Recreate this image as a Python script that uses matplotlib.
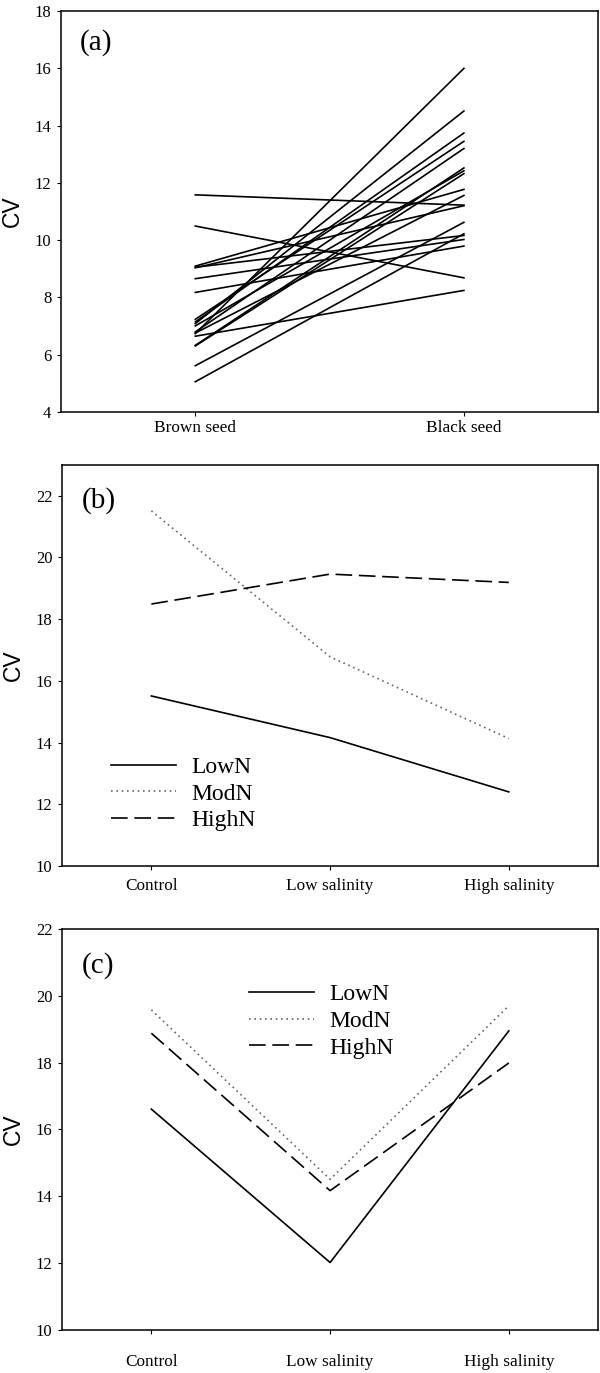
import numpy as np
import matplotlib
matplotlib.use("Agg")
import matplotlib.pyplot as plt

plt.rcParams['font.family'] = ['Liberation Serif', 'DejaVu Serif']

###############################################################################
# Data

# (a) CV of each line, brown seed vs black seed
seed_labels = ["Brown seed", "Black seed"]
brown_cv = [11.58, 10.49, 9.09, 9.03, 9.05, 8.65, 8.17, 7.23, 7.14, 7.08,
            6.79, 6.73, 6.64, 6.32, 6.30, 6.75, 7.00, 5.61, 5.05]
black_cv = [11.22, 8.68, 11.77, 11.20, 10.16, 10.02, 9.79, 13.45, 13.74, 14.51,
            13.20, 16.00, 8.24, 12.52, 12.32, 11.56, 12.42, 10.62, 10.22]

# (b) and (c) CV by salinity treatment for three N levels
salinity_labels = ["Control", "Low salinity", "High salinity"]
n_levels = ["LowN", "ModN", "HighN"]
cv_b = {"LowN": [15.51, 14.16, 12.40],
        "ModN": [21.51, 16.78, 14.13],
        "HighN": [18.49, 19.46, 19.19]}
cv_c = {"LowN": [16.61, 12.02, 18.95],
        "ModN": [19.58, 14.51, 19.70],
        "HighN": [18.88, 14.17, 17.99]}

styles = {"LowN": dict(color="black", linestyle="-"),
          "ModN": dict(color="0.4", linestyle=(0, (1, 2.2))),
          "HighN": dict(color="black", linestyle=(0, (10, 4)))}

###############################################################################
# Figure

fig = plt.figure(figsize=(6.0, 13.73), dpi=100)
ax_a = fig.add_axes([0.1017, 0.7001, 0.8953, 0.2918])
ax_b = fig.add_axes([0.1033, 0.3693, 0.8937, 0.2921])
ax_c = fig.add_axes([0.1033, 0.0313, 0.8937, 0.2921])


def style_axis(ax):
    ax.tick_params(direction="out", length=3, width=0.8, top=False, right=False)
    ax.tick_params(axis="y", labelsize=12, pad=4)
    for s in ax.spines.values():
        s.set_linewidth(1.1)
    ax.set_ylabel("CV", family=["Liberation Sans", "DejaVu Sans"], fontsize=16.5,
                  va="center")
    ax.yaxis.set_label_coords(-0.09, 0.5)


# (a)
x_seed = np.arange(1, len(seed_labels) + 1)
for b, k in zip(brown_cv, black_cv):
    ax_a.plot(x_seed, [b, k], color="black", lw=1.2)
ax_a.set_xlim(0.5, 2.5)
ax_a.set_ylim(4, 18)
ax_a.set_yticks(np.arange(4, 19, 2))
ax_a.set_xticks(x_seed)
ax_a.set_xticklabels(seed_labels)
style_axis(ax_a)
ax_a.tick_params(axis="x", labelsize=12.4, pad=3)
ax_a.text(0.035, 0.922, "(a)", transform=ax_a.transAxes, fontsize=21,
          ha="left", va="center")

# (b) and (c)
x_sal = np.arange(1, len(salinity_labels) + 1)
for ax, data, lab, xpad, leg_xy in [(ax_b, cv_b, "(b)", 6, (0.091, 0.18)),
                                    (ax_c, cv_c, "(c)", 14, (0.349, 0.77))]:
    for n in n_levels:
        ax.plot(x_sal, data[n], lw=1.2, label=n, **styles[n])
    ax.set_xlim(0.5, 3.5)
    ax.set_xticks(x_sal)
    ax.set_xticklabels(salinity_labels)
    style_axis(ax)
    ax.tick_params(axis="x", labelsize=12.4, pad=xpad)
    ax.text(0.037, 0.91, lab, transform=ax.transAxes, fontsize=21,
            ha="left", va="center")
    ax.legend(loc="center left", bbox_to_anchor=leg_xy, frameon=False,
              fontsize=17, handlelength=2.75, handletextpad=0.65,
              labelspacing=0.22, borderpad=0, borderaxespad=0)

ax_b.set_ylim(10, 23)
ax_b.set_yticks(np.arange(10, 23, 2))
ax_c.set_ylim(10, 22)
ax_c.set_yticks(np.arange(10, 23, 2))

fig.savefig("out.png", dpi=100)
